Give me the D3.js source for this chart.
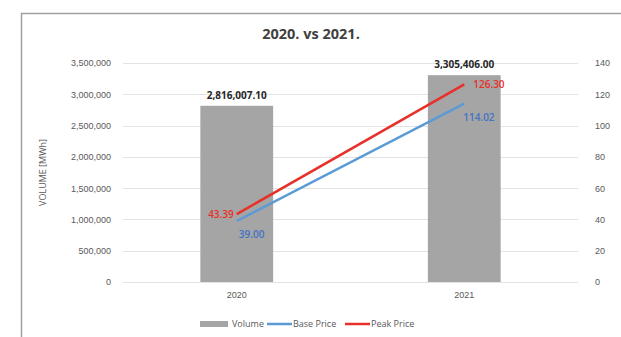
<!DOCTYPE html>
<html>
<head>
<meta charset="utf-8">
<script src="https://cdn.jsdelivr.net/npm/d3@7"></script>
<style>
  body { margin: 0; background: #fff; }
  svg { display: block; font-family: "Open Sans", "Liberation Sans", sans-serif; }
</style>
</head>
<body>
<svg width="621" height="337"></svg>
<script>
const width = 621;
const height = 337;

// data
var years = ["2020", "2021"];
var volume = [2816007.10, 3305406.00];
var basePrice = [39.00, 114.02];
var peakPrice = [43.39, 126.30];
var volumeTicks = [0, 500000, 1000000, 1500000, 2000000, 2500000, 3000000, 3500000];
var priceTicks = [0, 20, 40, 60, 80, 100, 120, 140];

var svg = d3.select("svg");

var margin = {left: 123, right: 578, top: 63, bottom: 282};

// frame around the chart area
svg.append("path")
    .attr("d", "M21.5," + height + " V13.5 H" + width)
    .attr("fill", "none")
    .attr("stroke", "#a0a0a0")
    .attr("stroke-width", 1.5);

var x = d3.scaleBand()
    .domain(years)
    .range([margin.left, margin.right])
    .paddingInner(0.68)
    .paddingOuter(0.34);

var yVol = d3.scaleLinear().domain([0, 3500000]).range([margin.bottom, margin.top]);
var yPrice = d3.scaleLinear().domain([0, 140]).range([margin.bottom, margin.top]);

// gridlines
svg.append("g")
    .selectAll("line")
    .data(volumeTicks)
    .join("line")
    .attr("x1", margin.left)
    .attr("x2", margin.right)
    .attr("y1", d => Math.round(yVol(d)) + 0.5)
    .attr("y2", d => Math.round(yVol(d)) + 0.5)
    .attr("stroke", "#e3e3e3")
    .attr("stroke-width", 1);

// left axis
var leftAxis = svg.append("g")
    .attr("transform", "translate(" + margin.left + ",0)")
    .call(d3.axisLeft(yVol).tickValues(volumeTicks).tickSize(0).tickPadding(12).tickFormat(d3.format(",")));
leftAxis.select(".domain").remove();
leftAxis.selectAll("text").attr("fill", "#595959").style("font-size", "9px");

// right axis
var rightAxis = svg.append("g")
    .attr("transform", "translate(" + margin.right + ",0)")
    .call(d3.axisRight(yPrice).tickValues(priceTicks).tickSize(0).tickPadding(17));
rightAxis.select(".domain").remove();
rightAxis.selectAll("text").attr("fill", "#595959").style("font-size", "9px");

// bottom axis
var bottomAxis = svg.append("g")
    .attr("transform", "translate(0," + margin.bottom + ")")
    .call(d3.axisBottom(x).tickSize(0).tickPadding(10));
bottomAxis.select(".domain").remove();
bottomAxis.selectAll("text").attr("fill", "#595959").style("font-size", "9px");

// axis title
svg.append("text")
    .attr("transform", "translate(46," + ((margin.top + margin.bottom) / 2) + ") rotate(-90)")
    .attr("text-anchor", "middle")
    .attr("fill", "#595959")
    .style("font-size", "9px")
    .text("VOLUME [MWh]");

// title
svg.append("text")
    .attr("x", 311)
    .attr("y", 39)
    .attr("text-anchor", "middle")
    .attr("fill", "#404040")
    .style("font-size", "14.5px")
    .style("font-weight", "bold")
    .text("2020. vs 2021.");

// bars
svg.append("g")
    .selectAll("rect")
    .data(years)
    .join("rect")
    .attr("x", d => x(d))
    .attr("width", x.bandwidth())
    .attr("y", (d, i) => yVol(volume[i]))
    .attr("height", (d, i) => yVol(0) - yVol(volume[i]))
    .attr("fill", "#a5a5a5");

svg.append("g")
    .selectAll("text")
    .data(years)
    .join("text")
    .attr("x", d => x(d) + x.bandwidth() / 2)
    .attr("y", (d, i) => yVol(volume[i]) - 7)
    .attr("text-anchor", "middle")
    .attr("fill", "#262626")
    .style("font-size", "10px")
    .style("font-weight", "bold")
    .text((d, i) => d3.format(",.2f")(volume[i]));

// price lines
var line = d3.line()
    .x((d, i) => x(years[i]) + x.bandwidth() / 2)
    .y(d => yPrice(d));

svg.append("path")
    .datum(basePrice)
    .attr("d", line)
    .attr("fill", "none")
    .attr("stroke", "#5b9bd5")
    .attr("stroke-width", 2.5);

svg.append("path")
    .datum(peakPrice)
    .attr("d", line)
    .attr("fill", "none")
    .attr("stroke", "#e8302a")
    .attr("stroke-width", 2.5);

// price labels
function cx(i) { return x(years[i]) + x.bandwidth() / 2; }

svg.append("g")
    .selectAll("text")
    .data(basePrice)
    .join("text")
    .attr("x", (d, i) => cx(i) + (i == 0 ? 2 : -1))
    .attr("y", d => yPrice(d) + 17)
    .attr("fill", "#4472c4")
    .style("font-size", "10px")
    .style("font-weight", "600")
    .text(d => d3.format(".2f")(d));

svg.append("g")
    .selectAll("text")
    .data(peakPrice)
    .join("text")
    .attr("x", (d, i) => i == 0 ? cx(i) - 3 : cx(i) + 9)
    .attr("y", d => yPrice(d) + 4)
    .attr("text-anchor", (d, i) => i == 0 ? "end" : "start")
    .attr("fill", "#e8302a")
    .style("font-size", "10px")
    .style("font-weight", "600")
    .text(d => d3.format(".2f")(d));

// legend
var legend = svg.append("g").attr("transform", "translate(0,325)");
var items = [
    {name: "Volume", type: "rect", color: "#a5a5a5", x: 200},
    {name: "Base Price", type: "line", color: "#5b9bd5", x: 267},
    {name: "Peak Price", type: "line", color: "#e8302a", x: 345}
];
items.forEach(function (d) {
    if (d.type == "rect") {
        legend.append("rect").attr("x", d.x).attr("y", -4).attr("width", 28).attr("height", 6).attr("fill", d.color);
        legend.append("text").attr("x", d.x + 32).attr("y", 2)
            .attr("fill", "#595959").style("font-size", "9px").text(d.name);
    } else {
        legend.append("line").attr("x1", d.x).attr("x2", d.x + 25).attr("y1", -1).attr("y2", -1)
            .attr("stroke", d.color).attr("stroke-width", 2.5);
        legend.append("text").attr("x", d.x + 26).attr("y", 2)
            .attr("fill", "#595959").style("font-size", "9px").text(d.name);
    }
});
</script>
</body>
</html>
